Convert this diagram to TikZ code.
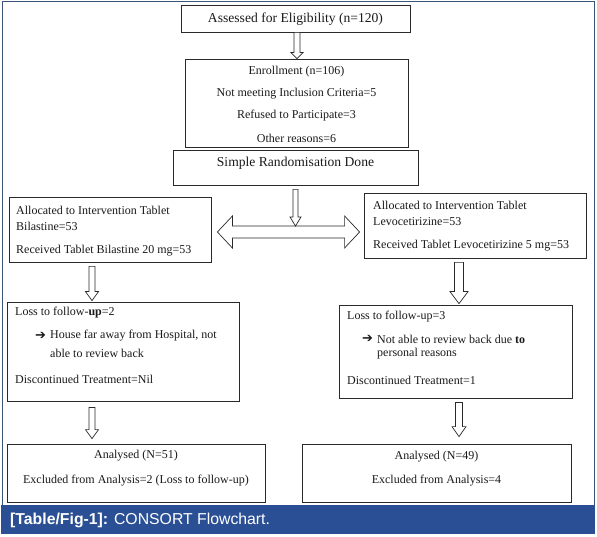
\documentclass[tikz,border=0pt]{standalone}
\usepackage{fontspec}
\setmainfont{Liberation Serif}
\newfontfamily\capfont{Liberation Sans}
\newfontfamily\symfont{DejaVu Sans}
\usetikzlibrary{calc}
\definecolor{frameblue}{HTML}{3A5578}
\definecolor{capblue}{HTML}{2A4F94}
\definecolor{txt}{HTML}{1A1A1A}
\definecolor{boxline}{HTML}{2A2A2A}
\tikzset{
  box/.style={draw=boxline,line width=0.8pt,inner sep=0pt,minimum width=#1},
  harrow/.style={draw=boxline,line width=0.7pt,fill=white,line join=miter},
  tl/.style={inner sep=0pt,anchor=west,text=txt,font=\fontsize{12}{14}\selectfont},
  tc/.style={inner sep=0pt,anchor=center,text=txt,font=\fontsize{12}{14}\selectfont},
  bullarrow/.style={inner sep=0pt,anchor=west,text=txt,font=\symfont\fontsize{13}{15}\selectfont},
}
% hollow down arrow: start, tip, shaft half width, head half width, head length
\newcommand{\hollowdown}[5]{%
  \draw[harrow] let \p1=(#1), \p2=(#2) in
    (\x1-#3pt,\y1) -- (\x1-#3pt,\y2+#5pt) -- (\x1-#4pt,\y2+#5pt) -- (\x1,\y2)
    -- (\x1+#4pt,\y2+#5pt) -- (\x1+#3pt,\y2+#5pt) -- (\x1+#3pt,\y1) -- cycle;}
\begin{document}
\begin{tikzpicture}[x=1pt,y=-1pt]
\useasboundingbox (0,0) rectangle (597,537);
\fill[white] (0,0) rectangle (597,537);
% frame and caption
\draw[frameblue,line width=1pt] (2,2) rectangle (594,505);
\fill[capblue] (1,505) rectangle (595,534);
\node[inner sep=0pt,anchor=west,text=white,font=\capfont\fontsize{15.8}{18}\selectfont] (cap) at (10,520) {\textbf{[Table/Fig-1]:} CONSORT Flowchart.};
% boxes
\node[box=229pt,minimum height=27pt] (b1) at (295.5,18.5) {};
\node[box=223pt,minimum height=88pt] (b2) at (296.5,103) {};
\node[box=245pt,minimum height=35pt] (b3) at (295.5,167.5) {};
\node[box=202pt,minimum height=65pt] (lA) at (110,229.5) {};
\node[box=222pt,minimum height=65pt] (rA) at (475,225.5) {};
\node[box=232pt,minimum height=99pt] (lL) at (123,351.5) {};
\node[box=233pt,minimum height=93pt] (rL) at (455.5,351.5) {};
\node[box=258pt,minimum height=58pt] (lN) at (136,473) {};
\node[box=269pt,minimum height=58pt] (rN) at (436.5,473) {};
% texts
\node[tc,font=\fontsize{13.6}{15}\selectfont] (t1) at (295.5,19.5) {Assessed for Eligibility (n=120)};
\node[tc,font=\fontsize{12}{13}\selectfont] (t2a) at (296.5,72) {Enrollment (n=106)};
\node[tc,font=\fontsize{12}{13}\selectfont] (t2b) at (296.5,94) {Not meeting Inclusion Criteria=5};
\node[tc,font=\fontsize{12}{13}\selectfont] (t2c) at (296.5,116) {Refused to Participate=3};
\node[tc,font=\fontsize{12}{13}\selectfont] (t2d) at (296.5,138) {Other reasons=6};
\node[tc,font=\fontsize{13.6}{15}\selectfont] (t3) at (295.5,163.5) {Simple Randomisation Done};
\node[tl] (tlA1) at (16,210) {Allocated to Intervention Tablet};
\node[tl] (tlA2) at (16,226) {Bilastine=53};
\node[tl] (tlA3) at (16,251) {Received Tablet Bilastine 20 mg=53};
\node[tl] (trA1) at (373,205) {Allocated to Intervention Tablet};
\node[tl] (trA2) at (373,222) {Levocetirizine=53};
\node[tl] (trA3) at (373,246) {Received Tablet Levocetirizine 5 mg=53};
\node[tl] (tlL1) at (15,313) {Loss to follow-\textbf{up}=2};
\node[bullarrow] (tlLa) at (35,336) {➔};
\node[tl] (tlL2) at (50,336) {House far away from Hospital, not};
\node[tl] (tlL3) at (50,353) {able to review back};
\node[tl] (tlL4) at (15,379) {Discontinued Treatment=Nil};
\node[tl] (trL1) at (347,317) {Loss to follow-up=3};
\node[bullarrow] (trLa) at (362,339) {➔};
\node[tl] (trL2) at (377,339) {Not able to review back due \textbf{to}};
\node[tl] (trL3) at (377,354) {personal reasons};
\node[tl] (trL4) at (347,380) {Discontinued Treatment=1};
\node[tc] (tlN1) at (136,456) {Analysed (N=51)};
\node[tc] (tlN2) at (136,481) {Excluded from Analysis=2 (Loss to follow-up)};
\node[tc] (trN1) at (436.5,457) {Analysed (N=49)};
\node[tc] (trN2) at (436.5,481) {Excluded from Analysis=4};
% arrow anchor coordinates
\coordinate (a1s) at ($(b1.south)+(1.5,0)$);
\coordinate (a1e) at ($(b2.north)+(0.5,0)$);
\coordinate (a2s) at ($(b3.south)+(0,4)$);
\coordinate (a2e) at (295.5,226);
\coordinate (a3s) at ($(lA.south)+(-18,4)$);
\coordinate (a3e) at ($(lL.north)+(-31,-1)$);
\coordinate (a4s) at ($(rA.south)+(-16,4)$);
\coordinate (a4e) at ($(rL.north)+(3.5,-1)$);
\coordinate (a5s) at ($(lL.south)+(-31,6)$);
\coordinate (a5e) at ($(lN.north)+(-44,-5)$);
\coordinate (a6s) at ($(rL.south)+(3.5,4)$);
\coordinate (a6e) at ($(rN.north)+(22.5,-7)$);
\coordinate (dl) at ($(lA.east)+(6,2.5)$);
\coordinate (dr) at ($(rA.west)+(-4,6.5)$);
% double hollow arrow
\draw[harrow] let \p1=(dl), \p2=(dr) in
  (\x1,\y1) -- (\x1+15pt,\y1+16pt) -- (\x1+15pt,\y1+6pt) -- (\x2-15pt,\y1+6pt)
  -- (\x2-15pt,\y1+16pt) -- (\x2,\y1) -- (\x2-15pt,\y1-16pt) -- (\x2-15pt,\y1-6pt)
  -- (\x1+15pt,\y1-6pt) -- (\x1+15pt,\y1-16pt) -- cycle;
\hollowdown{a1s}{a1e}{3}{6}{6}
\hollowdown{a2s}{a2e}{2.5}{5.5}{9}
\hollowdown{a3s}{a3e}{3}{6.5}{9}
\hollowdown{a4s}{a4e}{4.5}{9}{12}
\hollowdown{a5s}{a5e}{3}{6.5}{9}
\hollowdown{a6s}{a6e}{3.5}{7}{10}
\end{tikzpicture}
\end{document}
